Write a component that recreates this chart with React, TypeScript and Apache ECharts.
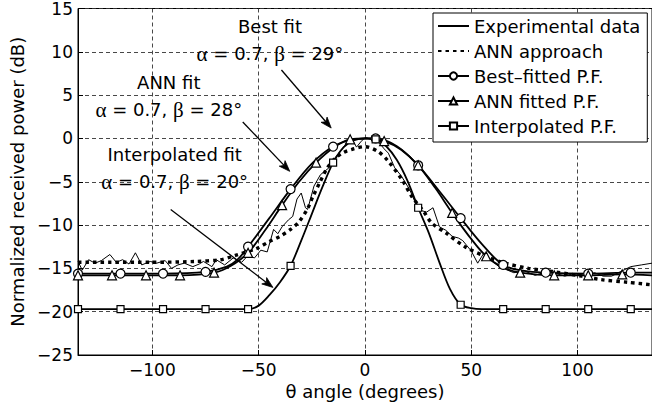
import React, { useEffect, useRef } from "react";
import * as echarts from "echarts";

const FONT = '"DejaVu Sans", sans-serif';

// Experimental data (thin solid)
const expAngles = [-135, -133, -130, -127, -124, -120, -117, -114, -111, -108, -105, -101, -98, -94, -91, -88, -85, -81, -78, -76, -72, -70, -66, -62, -58, -55, -52, -49, -46, -43, -41, -39, -36, -34, -32, -30, -28, -27, -24, -21, -17, -14, -11, -8, -6, -4, -2, 0, 3, 6, 9, 11, 14, 17, 21, 24, 26, 29, 32, 35, 38, 41, 44, 46, 48, 50, 53, 56, 59, 63, 66, 70, 75, 80, 85, 90, 94, 98, 103, 108, 112, 116, 120, 125, 130, 135];
const expValues = [-14.2, -15.2, -14.0, -14.4, -14.1, -13.4, -14.3, -14.0, -14.5, -13.2, -14.6, -14.2, -14.4, -14.1, -15.0, -14.6, -14.4, -14.8, -14.5, -14.2, -14.8, -14.0, -14.6, -13.8, -14.3, -13.5, -13.8, -12.9, -13.1, -10.5, -11.0, -10.2, -9.4, -9.0, -7.0, -6.3, -8.0, -8.2, -5.5, -4.2, -3.4, -2.2, -1.3, -0.3, -0.1, -1.0, -0.4, 0.1, -0.1, -0.3, -1.2, -1.7, -3.4, -4.3, -5.9, -7.6, -8.3, -8.5, -8.0, -10.2, -10.6, -11.3, -11.5, -11.8, -12.4, -13.0, -14.4, -13.2, -14.0, -14.8, -15.1, -15.5, -15.3, -15.8, -15.4, -15.6, -15.9, -15.6, -15.8, -15.5, -15.9, -15.9, -15.4, -14.8, -14.6, -14.4];

// ANN approach (thick dashed)
const annAngles = [-135, -120, -100, -80, -68, -61, -51, -45, -40, -35, -31, -27, -24.5, -21.5, -18, -14, -10, -6, 0, 6, 10.5, 17.5, 22, 27.5, 31.5, 38, 47, 56.5, 66, 77, 88, 102, 111, 123.5, 135];
const annValues = [-14.3, -14.3, -14.3, -14.2, -14.0, -13.5, -12.7, -11.9, -11.3, -10.5, -9.6, -8.1, -6.7, -5.2, -3.5, -2.3, -1.6, -1.25, -0.95, -1.5, -2.5, -4.8, -6.7, -8.4, -9.8, -10.9, -12.5, -13.6, -14.4, -15.0, -15.35, -15.9, -16.3, -16.6, -16.9];

// Best-fitted pattern function (circles)
const bestAngles = [-135, -115, -95, -75, -65, -60, -55, -45, -35, -25, -15, -5, 5, 15, 25, 35, 45, 55, 65, 75, 85, 105, 125, 135];
const bestValues = [-15.6, -15.6, -15.6, -15.4, -14.8, -14.0, -12.5, -9.2, -5.85, -2.9, -0.94, -0.1, 0, -0.9, -3.1, -6.1, -9.2, -12.2, -14.6, -15.3, -15.5, -15.6, -15.5, -15.5];
const bestMarkerAngles = [-135, -115, -95, -75, -55, -35, -15, 5, 25, 45, 65, 85, 105, 125];

// ANN fitted pattern function (triangles)
const annFitAngles = [-135, -119, -103, -87, -71, -63, -55, -47, -39, -31, -23, -15, -7, 1, 9, 17, 25, 33, 41, 49, 57, 65, 73, 89, 105, 121, 135];
const annFitValues = [-15.8, -15.8, -15.8, -15.8, -15.5, -14.7, -13.2, -10.6, -7.7, -5.0, -2.8, -1.1, -0.1, 0, -0.3, -1.3, -3.1, -5.7, -8.6, -11.3, -13.6, -14.9, -15.5, -15.8, -15.8, -15.7, -15.8];
const annFitMarkerAngles = [-135, -119, -103, -87, -71, -55, -39, -23, -7, 9, 25, 41, 57, 73, 89, 105, 121];

// Interpolated pattern function (squares)
const interpAngles = [-135, -115, -95, -75, -55, -50, -45, -40, -35, -30, -25, -20, -15, -10, -5, 0, 5, 10, 15, 20, 25, 30, 35, 40, 45, 50, 55, 65, 85, 105, 125, 135];
const interpValues = [-19.7, -19.7, -19.7, -19.7, -19.7, -19.3, -18.1, -16.6, -14.7, -11.8, -8.7, -5.6, -2.8, -1.0, -0.2, 0.0, -0.1, -0.9, -2.5, -4.9, -8.0, -10.9, -14.3, -17.4, -19.2, -19.6, -19.7, -19.7, -19.7, -19.7, -19.7, -19.7];
const interpMarkerAngles = [-135, -115, -95, -75, -55, -35, -15, 5, 25, 45, 65, 85, 105, 125];

const seriesNames = ["Experimental data", "ANN approach", "Best\u2013fitted P.F.", "ANN fitted P.F.", "Interpolated P.F."];

// Annotations (data coordinates)
const annotationTexts = [
  { lines: ["Best fit", "{g|\u03b1} = 0.7, {g|\u03b2} = 29\u00b0"], at: [-44.7, 12.9] },
  { lines: ["ANN fit", "{g|\u03b1} = 0.7, {g|\u03b2} = 28\u00b0"], at: [-92.3, 6.4] },
  { lines: ["Interpolated fit", "{g|\u03b1} = 0.7, {g|\u03b2} = 20\u00b0"], at: [-89.5, -1.9] },
];
const annotationArrows = [
  { from: [-39.3, 7.9], to: [-15.9, 1.2] },
  { from: [-57.5, 1.9], to: [-35.4, -3.8] },
  { from: [-91.4, -8.2], to: [-43.3, -17.2] },
];

function pairs(angles: number[], values: number[], markers?: number[]) {
  return angles.map((a, i) =>
    markers && markers.includes(a) ? { value: [a, values[i]] } : { value: [a, values[i]], symbol: "none" }
  );
}

const minus = (v: number) => String(v).replace("-", "\u2212");

export default function App() {
  const ref = useRef<HTMLDivElement>(null);
  useEffect(() => {
    const chart = echarts.init(ref.current!, null, { renderer: "svg" });
    const markerStyle = { color: "#fff", borderColor: "#000", borderWidth: 1.2 };
    const noMarker = { color: "transparent", borderColor: "transparent", borderWidth: 0 };
    const option: any = {
      animation: false,
      backgroundColor: "#fff",
      grid: { left: 78, top: 8.5, width: 576, height: 346.5, show: true, borderColor: "#000", borderWidth: 1, backgroundColor: "transparent" },
      xAxis: {
        type: "value",
        min: -135,
        max: 135,
        splitNumber: 5,
        name: "\u03b8 angle (degrees)",
        nameLocation: "middle",
        nameGap: 20,
        nameTextStyle: { fontFamily: FONT, fontSize: 18, color: "#000" },
        axisLine: { show: true, onZero: false, lineStyle: { color: "#000", width: 1 } },
        axisTick: { show: true, inside: true, length: 5, lineStyle: { color: "#000" } },
        axisLabel: { showMinLabel: false, showMaxLabel: false, margin: 6, fontFamily: FONT, fontSize: 17, color: "#000", formatter: minus },
        splitLine: { show: true, lineStyle: { color: "#333", width: 0.9, type: [4, 3] } },
      },
      yAxis: {
        type: "value",
        min: -25,
        max: 15,
        interval: 5,
        name: "Normalized received power (dB)",
        nameLocation: "middle",
        nameGap: 44,
        nameTextStyle: { fontFamily: FONT, fontSize: 18, color: "#000" },
        axisLine: { show: true, onZero: false, lineStyle: { color: "#000", width: 1 } },
        axisTick: { show: true, inside: true, length: 5, lineStyle: { color: "#000" } },
        axisLabel: { margin: 5, fontFamily: FONT, fontSize: 17, color: "#000", formatter: minus },
        splitLine: { show: true, lineStyle: { color: "#333", width: 0.9, type: [4, 3] } },
      },
      legend: {
        orient: "vertical",
        left: 433,
        top: 13,
        padding: [4, 7, 7, 4],
        itemGap: 7,
        itemWidth: 31,
        itemHeight: 9,
        backgroundColor: "#fff",
        borderColor: "#000",
        borderWidth: 1,
        borderRadius: 0,
        textStyle: { fontFamily: FONT, fontSize: 18, color: "#000", lineHeight: 18 },
        data: seriesNames,
      },
      series: [
        {
          name: seriesNames[0],
          type: "line",
          data: pairs(expAngles, expValues),
          symbol: "none",
          lineStyle: { color: "#000", width: 1 },
          itemStyle: noMarker,
          z: 3,
        },
        {
          name: seriesNames[1],
          type: "line",
          data: pairs(annAngles, annValues),
          symbol: "none",
          smooth: 0.3,
          lineStyle: { color: "#000", width: 3.4, type: [3.5, 4] },
          itemStyle: noMarker,
          z: 3,
        },
        {
          name: seriesNames[2],
          type: "line",
          data: pairs(bestAngles, bestValues, bestMarkerAngles),
          symbol: "circle",
          symbolSize: 9,
          showSymbol: true,
          showAllSymbol: true,
          smooth: 0.35,
          lineStyle: { color: "#000", width: 1.8 },
          itemStyle: markerStyle,
          z: 4,
        },
        {
          name: seriesNames[3],
          type: "line",
          data: pairs(annFitAngles, annFitValues, annFitMarkerAngles),
          symbol: "triangle",
          symbolSize: 9,
          showSymbol: true,
          showAllSymbol: true,
          smooth: 0.35,
          lineStyle: { color: "#000", width: 1.8 },
          itemStyle: markerStyle,
          z: 4,
        },
        {
          name: seriesNames[4],
          type: "line",
          data: pairs(interpAngles, interpValues, interpMarkerAngles),
          symbol: "rect",
          symbolSize: 7,
          showSymbol: true,
          showAllSymbol: true,
          smooth: 0.3,
          lineStyle: { color: "#000", width: 1.8 },
          itemStyle: markerStyle,
          z: 4,
        },
      ],
    };
    chart.setOption(option);

    const toPx = (p: number[]) => chart.convertToPixel({ xAxisIndex: 0, yAxisIndex: 0 }, p) as number[];
    const graphics: any[] = [];
    annotationTexts.forEach((t) => {
      const c = toPx(t.at);
      t.lines.forEach((line, i) => {
        graphics.push({
          type: "text",
          x: c[0],
          y: c[1] + i * 27,
          z: 10,
          style: {
            text: line,
            x: 0,
            y: 0,
            align: "center",
            verticalAlign: "middle",
            fontFamily: FONT,
            fontSize: 18,
            fill: "#000",
            rich: { g: { fontFamily: '"Liberation Serif", serif', fontSize: 21, fill: "#000" } },
          },
        });
      });
    });
    annotationArrows.forEach((a) => {
      const p1 = toPx(a.from);
      const p2 = toPx(a.to);
      const dx = p2[0] - p1[0];
      const dy = p2[1] - p1[1];
      const len = Math.sqrt(dx * dx + dy * dy);
      const ux = dx / len;
      const uy = dy / len;
      const nx = -uy;
      const ny = ux;
      const L = 11;
      const W = 4;
      const back = [p2[0] - ux * L, p2[1] - uy * L];
      const notch = [p2[0] - ux * L * 0.75, p2[1] - uy * L * 0.75];
      graphics.push({
        type: "line",
        z: 10,
        shape: { x1: p1[0], y1: p1[1], x2: notch[0], y2: notch[1] },
        style: { stroke: "#000", lineWidth: 1.3 },
      });
      graphics.push({
        type: "polygon",
        z: 10,
        shape: {
          points: [
            [p2[0], p2[1]],
            [back[0] + nx * W, back[1] + ny * W],
            notch,
            [back[0] - nx * W, back[1] - ny * W],
          ],
        },
        style: { fill: "#000", stroke: "#000", lineWidth: 0.8 },
      });
    });
    chart.setOption({ graphic: graphics });

    return () => chart.dispose();
  }, []);
  return (
    <div
      ref={ref}
      style={{ position: "fixed", left: 0, top: 0, width: 652, height: 406, background: "#fff" }}
    />
  );
}
